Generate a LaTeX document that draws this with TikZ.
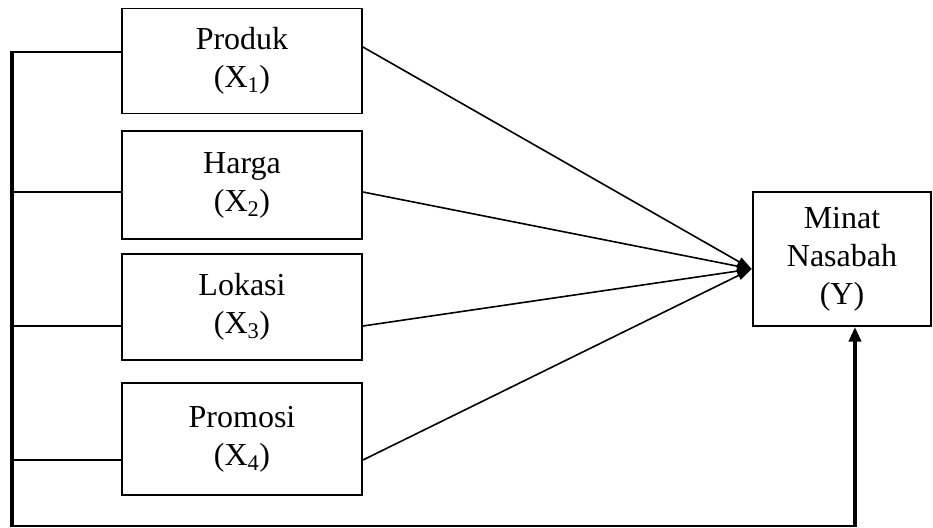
\documentclass[tikz,border=0pt]{standalone}
\usepackage{fontspec}
\setmainfont{Liberation Serif}
\usetikzlibrary{arrows.meta,calc}
\begin{document}
\begin{tikzpicture}[x=0.75pt,y=-0.75pt,
  box/.style={draw,line width=1.4pt,align=center,minimum width=180pt,inner sep=0pt,
    font=\fontsize{24}{28.5}\selectfont},
  thin/.style={line width=1.2pt},
  bus/.style={line width=3pt},
  tip/.style={-{Triangle[length=11pt,width=7pt]}}]
\useasboundingbox (0,0) rectangle (933,528);
\node[box,minimum height=78.75pt] (b1) at (242,61) {Produk\\(X\textsubscript{1})};
\node[box,minimum height=81pt] (b2) at (242,185) {Harga\\(X\textsubscript{2})};
\node[box,minimum height=79.5pt] (b3) at (242,307) {Lokasi\\(X\textsubscript{3})};
\node[box,minimum height=84pt] (b4) at (242,439) {Promosi\\(X\textsubscript{4})};
\node[box,minimum width=134pt,minimum height=100.5pt] (y) at (842,259) {Minat\\Nasabah\\(Y)};
\coordinate (t) at ([yshift=-7.5pt]y.west);
\coordinate (c1) at (12,52);
\coordinate (c2) at (12,192);
\coordinate (c3) at (12,326);
\coordinate (c4) at (12,460);
\coordinate (bl) at (12,526);
\coordinate (br) at (855,526);
% spokes
\draw[thin,tip] ([yshift=10.5pt]b1.east) -- (t);
\draw[thin,tip] ([yshift=-5.25pt]b2.east) -- (t);
\draw[thin,tip] ([yshift=-14.25pt]b3.east) -- (t);
\draw[thin,tip] ([yshift=-15.75pt]b4.east) -- (t);
% left bus
\draw[thin] (c1) -- (c1 -| b1.west);
\draw[thin] (c2) -- (c2 -| b2.west);
\draw[thin] (c3) -- (c3 -| b3.west);
\draw[thin] (c4) -- (c4 -| b4.west);
\draw[bus] ([yshift=0.6pt]c1) -- ([yshift=-0.75pt]bl);
\draw[line width=1.6pt] ([xshift=-1.2pt]bl) -- ([xshift=1.5pt]br);
\draw[bus,-{Triangle[length=11pt,width=9pt]}] ([yshift=-0.75pt]br) -- (br |- y.south);
\end{tikzpicture}
\end{document}
